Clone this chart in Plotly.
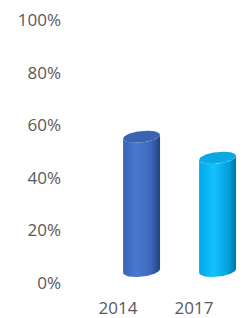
import numpy as np
import plotly.graph_objects as go

categories = ["2014", "2017"]
values = [0.51, 0.43]
y_ticks = [0, 0.2, 0.4, 0.6, 0.8, 1.0]
y_tick_labels = ["0%", "20%", "40%", "60%", "80%", "100%"]

body_scales = [
    [[0, "#3A62B4"], [0.35, "#4A79CF"], [0.75, "#3E67BA"], [1, "#25427E"]],
    [[0, "#00A8E8"], [0.4, "#17C0FF"], [0.78, "#00A2DC"], [1, "#0077A6"]],
]
cap_colors = ["#3A63B2", "#0BA9E2"]

# 3D style geometry (category units / fraction units)
dx_off = 0.31      # depth shift to the right
base = 0.046       # depth shift upward
half_w = 0.243
ell_h = 0.022
shear = 0.03

fig = go.Figure()
t_lower = np.linspace(np.pi, 2 * np.pi, 60)   # front (lower) half, left->right
t_full = np.linspace(0, 2 * np.pi, 120)

for i, (cat, v) in enumerate(zip(categories, values)):
    cx = i + dx_off
    top = base + v
    xt = cx + half_w * np.cos(t_lower)
    yt = top + ell_h * np.sin(t_lower) + shear * (xt - cx)
    xb = xt[::-1]
    yb = base + ell_h * np.sin(t_lower[::-1]) + shear * (xb - cx)
    xs = np.concatenate([xt, xb, xt[:1]])
    ys = np.concatenate([yt, yb, yt[:1]])
    fig.add_trace(go.Scatter(
        x=xs, y=ys, mode="lines", line=dict(width=0), fill="toself",
        fillgradient=dict(type="horizontal", colorscale=body_scales[i]),
        hoverinfo="skip", showlegend=False))
    xc = cx + half_w * np.cos(t_full)
    yc = top + ell_h * np.sin(t_full) + shear * (xc - cx)
    fig.add_trace(go.Scatter(
        x=xc, y=yc, mode="lines", line=dict(width=0), fill="toself",
        fillcolor=cap_colors[i], hoverinfo="skip", showlegend=False))

font = dict(family="Open Sans", size=17, color="#595959")
fig.update_layout(
    width=247, height=318,
    margin=dict(l=62, r=0, t=20, b=35),
    paper_bgcolor="white", plot_bgcolor="white",
    font=font, showlegend=False,
    xaxis=dict(range=[-0.737, 1.697], tickvals=[0, 1], ticktext=categories,
               showgrid=False, zeroline=False, showline=False, ticks="",
               ticklabelstandoff=13, automargin=False, fixedrange=True),
    yaxis=dict(range=[0, 1], tickvals=y_ticks, ticktext=y_tick_labels,
               showgrid=False, zeroline=False, showline=False, ticks="",
               automargin=False, fixedrange=True),
)
fig.write_html("out.html", config={"displayModeBar": False},
               post_script="document.body.style.margin='0';document.body.style.overflow='hidden';")
